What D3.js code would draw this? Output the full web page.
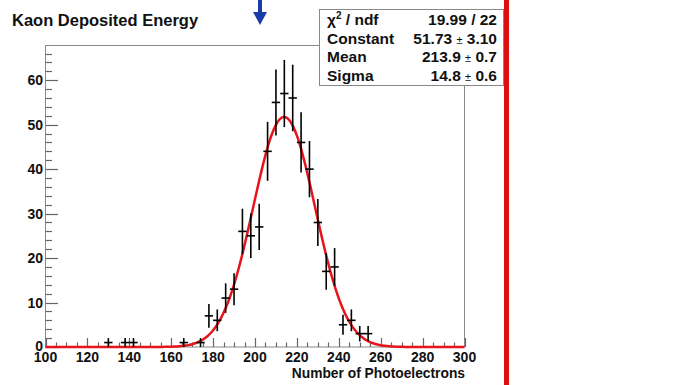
<!DOCTYPE html>
<html>
<head>
<meta charset="utf-8">
<script src="https://cdn.jsdelivr.net/npm/d3@7"></script>
<style>
  body { margin: 0; background: #fff; }
  svg { display: block; font-family: "Liberation Sans", Arial, sans-serif; font-weight: bold; }
</style>
</head>
<body>
<svg id="chart" width="677" height="385"></svg>
<script>
// histogram bins (width 4), only the filled ones
let binCenters = [130, 138, 142, 166, 174, 178, 182, 186, 190, 194, 198, 202, 206,
                  210, 214, 218, 222, 226, 230, 234, 238, 242, 246, 250, 254];
let counts     = [1, 1, 1, 1, 1, 7, 6, 11, 13, 26, 25, 27, 44,
                  55, 57, 56, 46, 40, 28, 17, 18, 5, 6, 3, 3];
let binWidth = 4;

// gaussian fit result (stats box)
let fitConstant = 51.73, fitMean = 213.9, fitSigma = 14.8;
let statLabels = ["χ2 / ndf", "Constant", "Mean", "Sigma"];
let statValues = [["19.99 / 22"], ["51.73", "3.10"], ["213.9", "0.7"], ["14.8", "0.6"]];

let xTicks = d3.range(100, 301, 20);
let yTicks = d3.range(0, 61, 10);

let svg = d3.select("#chart");

let frameL = 45.5, frameR = 464.5, frameT = 45.5, frameB = 347;

let x = d3.scaleLinear().domain([100, 300]).range([frameL, frameR]);
let y = d3.scaleLinear().domain([0, 67.8]).range([frameB, frameT]);

// frame
svg.append("rect")
    .attr("x", frameL).attr("y", frameT)
    .attr("width", frameR - frameL).attr("height", frameB - frameT)
    .attr("fill", "none").attr("stroke", "#888").attr("stroke-width", 1);

// y axis ticks (inward)
let yMinor = d3.range(0, 67.8, 2);
svg.append("g").selectAll("line").data(yMinor).join("line")
    .attr("x1", frameL).attr("x2", d => frameL + (d % 10 == 0 ? 12.5 : 6.5))
    .attr("y1", d => Math.round(y(d)) + 0.5).attr("y2", d => Math.round(y(d)) + 0.5)
    .attr("stroke", "#666").attr("stroke-width", 1.2);

svg.append("g").selectAll("text").data(yTicks).join("text")
    .attr("x", 43).attr("y", d => y(d) + (d == 0 ? 3.5 : 5))
    .attr("text-anchor", "end")
    .attr("font-size", 14)
    .attr("fill", "#111")
    .text(d => d);

// x axis ticks (inward)
let xMinor = d3.range(100, 301, 5);
svg.append("g").selectAll("line").data(xMinor).join("line")
    .attr("x1", d => Math.round(x(d)) + 0.5).attr("x2", d => Math.round(x(d)) + 0.5)
    .attr("y1", frameB).attr("y2", d => frameB - (d % 20 == 0 ? 9 : 4.5))
    .attr("stroke", "#666").attr("stroke-width", 1.2);

svg.append("g").selectAll("text").data(xTicks).join("text")
    .attr("x", d => x(d)).attr("y", 362)
    .attr("text-anchor", "middle")
    .attr("font-size", 14)
    .attr("fill", "#111")
    .text(d => d);

// axis title
svg.append("text")
    .attr("x", 465).attr("y", 378)
    .attr("text-anchor", "end")
    .attr("font-size", 13.8)
    .attr("fill", "#111")
    .text("Number of Photoelectrons");

// histogram title
svg.append("text")
    .attr("x", 12).attr("y", 26)
    .attr("font-size", 16.5)
    .attr("fill", "#111")
    .text("Kaon Deposited Energy");

// fit curve
let gauss = v => fitConstant * Math.exp(-0.5 * Math.pow((v - fitMean) / fitSigma, 2));
let curveX = d3.range(100, 300.01, 1);
svg.append("path")
    .datum(curveX)
    .attr("d", d3.line().x(d => x(d)).y(d => y(gauss(d))).curve(d3.curveMonotoneX))
    .attr("fill", "none").attr("stroke", "#e8141c").attr("stroke-width", 2.5);

// data points with errors
let pts = svg.append("g").attr("stroke", "#000").attr("stroke-width", 1.6);
binCenters.forEach((c, i) => {
    let n = counts[i];
    let err = Math.sqrt(n);
    pts.append("line")
        .attr("x1", x(c)).attr("x2", x(c))
        .attr("y1", y(Math.max(0, n - err))).attr("y2", y(n + err));
    pts.append("line")
        .attr("x1", x(c - binWidth / 2)).attr("x2", x(c + binWidth / 2))
        .attr("y1", y(n)).attr("y2", y(n));
});

// stats box
let box = svg.append("g");
box.append("rect")
    .attr("x", 319.5).attr("y", 9.5).attr("width", 184).attr("height", 76)
    .attr("fill", "#fff").attr("stroke", "#888").attr("stroke-width", 1);

let rowY = [25, 43.5, 62, 80.5];
statLabels.forEach((lab, i) => {
    let t = box.append("text")
        .attr("x", 327).attr("y", rowY[i])
        .attr("font-size", 15.5).attr("fill", "#111");
    if (i == 0) {
        t.append("tspan").text("χ");
        t.append("tspan").attr("font-size", 10).attr("dy", -6).text("2");
        t.append("tspan").attr("dy", 6).text(" / ndf");
    } else {
        t.text(lab);
    }
    let v = box.append("text")
        .attr("x", 497).attr("y", rowY[i])
        .attr("text-anchor", "end")
        .attr("font-size", 15.5).attr("fill", "#111");
    let vals = statValues[i];
    if (vals.length == 1) {
        v.text(vals[0]);
    } else {
        v.append("tspan").text(vals[0] + " ");
        v.append("tspan").attr("font-size", 11).attr("font-weight", "normal").text("±");
        v.append("tspan").text(" " + vals[1]);
    }
});

// blue arrow
svg.append("path")
    .attr("d", "M258,0 L262,0 L262,12 L267,12 L260,25 L253,12 L258,12 Z")
    .attr("fill", "#1a3ca8");

// red vertical line
svg.append("rect")
    .attr("x", 504).attr("y", 0).attr("width", 5).attr("height", 385)
    .attr("fill", "#dd1010");
</script>
</body>
</html>
